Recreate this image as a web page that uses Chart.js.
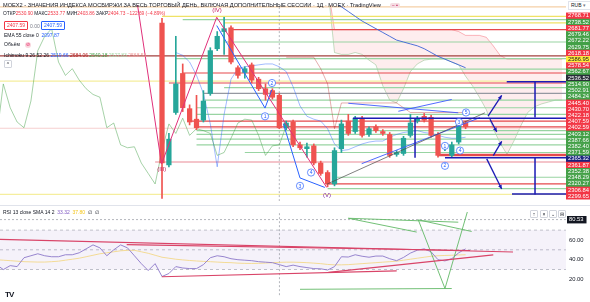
<!DOCTYPE html>
<html>
<head>
<meta charset="utf-8">
<title>MOEX2 1Д</title>
<script src="https://cdn.jsdelivr.net/npm/chart.js@4.4.1/dist/chart.umd.min.js"></script>
<style>
  body { margin: 0; width: 590px; height: 302px; overflow: hidden; background: #fff; position: relative;
         font-family: "Liberation Sans", Arial, sans-serif; color: #131722; }
  canvas { position: absolute; left: 0; }
  #main { top: 0; }
  #rsi { top: 206px; }
  .t { position: absolute; white-space: nowrap; line-height: 1; }
  .r { color: #f23645; }
  .sep { position: absolute; left: 0; top: 205px; width: 590px; height: 1px; background: #e0e3eb; }
  .box { position: absolute; height: 7px; font-size: 5px; line-height: 7px; padding: 0 2px; border: 1px solid; border-radius: 1px; background: #fff; }
  .btn { position: absolute; width: 6px; height: 6px; border: 1px solid #d1d4dc; border-radius: 1px; font-size: 5px; line-height: 6px; text-align: center; background: #fff; }
</style>
</head>
<body>
<canvas id="main" width="590" height="206"></canvas>
<canvas id="rsi" width="590" height="96"></canvas>
<div class="sep"></div>

<div class="t" style="left:3px;top:3px;font-size:5.65px">MOEX2 - ЗНАЧЕНИЯ ИНДЕКСА МОСБИРЖИ ЗА ВЕСЬ ТОРГОВЫЙ ДЕНЬ, ВКЛЮЧАЯ ДОПОЛНИТЕЛЬНЫЕ СЕССИИ · 1Д · MOEX · TradingView</div>
<div class="t" style="left:390px;top:3px;font-size:5px;background:#f5dde3;color:#c2185b;padding:0 2px;border-radius:2px">− ▪</div>
<div class="t" style="left:3px;top:12px;font-size:4.8px">ОТКР<span class="r">2530.90</span> МАКС<span class="r">2533.77</span> МИН<span class="r">2403.86</span> ЗАКР<span class="r">2404.73</span> <span class="r">−122.69 (−4.89%)</span></div>
<div class="box" style="left:4px;top:21px;border-color:#f23645;color:#f23645">2407.59</div>
<div class="t" style="left:30px;top:24px;font-size:5px;color:#787b86">0.00</div>
<div class="box" style="left:41px;top:21px;border-color:#2962ff;color:#2962ff">2407.59</div>
<div class="t" style="left:4px;top:33px;font-size:5px">EMA 55 close 0 &nbsp;<span style="color:#2962ff">2097.87</span></div>
<div class="t" style="left:4px;top:42px;font-size:5px">Объём <span style="display:inline-block;margin-left:4px;width:6px;height:6px;border-radius:3px;background:#f8d7de;color:#e91e63;text-align:center;line-height:6px;font-size:4.5px">⊘</span></div>
<div class="t" style="left:4px;top:53px;font-size:5px">Ichimoku 9 26 52 26 <span style="color:#2962ff">2519.66</span> <span style="color:#b71c1c">2684.06</span> <span style="color:#43a047">2540.18</span> <span style="color:#a5d6a7">2527.83</span> <span style="color:#ef9a9a">2568.53</span></div>
<div class="btn" style="left:4px;top:60px">^</div>

<div class="t" style="left:568px;top:1px;width:20px;height:7px;font-size:5px;line-height:7px;background:#fff;border:1px solid #e0e3eb;padding-left:2px">RUB <span style="color:#787b86">▾</span></div>

<div class="t" style="left:3px;top:210px;font-size:5px">RSI 13 close SMA 14 2 &nbsp;<span style="color:#7e57c2">33.32</span> &nbsp;<span style="color:#f5c518">37.80</span> &nbsp;∅ &nbsp;∅</div>
<div class="btn" style="left:530px;top:210px">↑</div>
<div class="btn" style="left:540px;top:210px">×</div>
<div class="btn" style="left:549px;top:210px">⌄</div>
<div class="btn" style="left:558px;top:210px">⊟</div>
<div class="t" style="left:5px;top:291px;font-size:8px;font-weight:bold;letter-spacing:-1px">TV</div>

<script>
// ---- candles (index 0 = the big red day) ----
var opens  = [2531.3,2345,2413.8,2465,2418.8,2405,2403.8,2438.8,2497.5,2520,2525,2472.5,2466.3,2476.3,2457.5,2445,2442.5,2436.3,2393.8,2401.3,2371.3,2366.3,2370,2347.5,2335,2320,2366.3,2402.5,2388.8,2406.3,2385,2395,2388.8,2385,2358.8,2360,2383.8,2402.5,2408.8,2407.5,2385,2367.5,2357.5,2375,2400];
var highs  = [2537.5,2386.3,2513.8,2477.5,2423.8,2436.3,2442.5,2498.8,2520,2538.8,2527.5,2475,2473.8,2478.8,2460,2451.3,2445,2438.8,2402.5,2403.8,2375,2373.8,2372.5,2350,2337.5,2367.5,2403.8,2411.3,2408.8,2408.8,2395,2397.5,2391.3,2387.5,2363.8,2382.5,2411.3,2408.8,2412.5,2410,2387.5,2373.8,2375,2400,2402.5];
var lows   = [2301,2342.5,2411.3,2415,2397.5,2391.3,2401.3,2436.3,2495,2490,2477.5,2458.8,2458.8,2452.5,2442.5,2430,2431.3,2392.5,2391.3,2368.8,2365,2355,2345,2331.3,2316.3,2317.5,2361.3,2383.8,2386.3,2381.3,2382.5,2387.5,2383.8,2355,2356.3,2357.5,2381.3,2400,2401.3,2381.3,2355,2363.8,2355,2372.5,2392.5];
var closes = [2347.5,2378.8,2451.3,2420,2401.3,2393.8,2428.8,2495,2513.8,2523.8,2480,2462.5,2471.3,2456.3,2445,2437.5,2433.8,2393.8,2400,2371.3,2367.5,2368.8,2347.5,2333.8,2320,2363.8,2398.8,2386.3,2406.3,2383.8,2392.5,2390,2386.3,2357.5,2361.3,2380,2400,2405,2403.8,2383.8,2357.5,2370,2371.3,2396.3,2395];

// ---- ichimoku / ema ----
var tenkanStart = 2;
var tenkan = [2492.5,2488.8,2480,2462.5,2438.8,2398.8,2342.5,2411.3,2457.5,2471.3,2473.8,2475,2476.3,2477.5,2477.5,2473.8,2467.5,2447.5,2422.5,2408.8,2405,2402.5,2392.5,2372.5,2363.8,2365,2368.8,2372.5,2375,2376.3,2376.3,2381.3,2385,2387.5,2388.8,2390,2387.5,2386.3,2383.8,2381.3,2380,2380,2381.3];
var kijunStart = 18;
var kijun = [2486.3,2486.3,2486.3,2486.3,2486.3,2471.3,2451.3,2392.5,2426.3,2426.3,2426.3,2426.3,2426.3,2426.3,2426.3,2426.3,2426.3,2420,2413.8,2413.8,2413.8,2413.8,2413.8,2413.8,2413.8,2413.8,2413.8];
var chikouShift = 25;
var emaStart = 25;
var ema55 = [2558.8,2552.5,2546.3,2540,2533.8,2528.8,2523.8,2518.8,2513.8,2508.8,2506.3,2503.8,2501.3,2497.5,2492.5,2487.5,2483.8,2480,2476.3,2472.5];
var cloudStart = 24;
var spanB = [2580,2522.5,2522.5,2522.5,2522.5,2522.5,2522.5,2522.5,2522.5,2522.5,2522.5,2522.5,2522.5,2522.5,2522.5,2522.5,2522.5,2522.5,2522.5,2520,2515,2515,2515,2512.5,2501.3,2488.8,2483.8,2483.8,2483.8,2483.8,2483.8,2483.8,2483.8,2483.8,2483.8];
var spanA = [2580,2492.5,2490,2490,2492.5,2490,2482.5,2476.3,2448.8,2430,2426.3,2445,2467.5,2477.5,2482.5,2483.8,2483.8,2483.8,2480,2476.3,2461.3,2448.8,2433.8,2417.5,2392.5,2373.8,2358.8,2376.3,2396.3,2413.8,2421.3,2425,2427.5,2430,2430];

// ---- horizontal levels ----
var levelPrices = [2552.5,2540,2535.6,2531.3,2522.5,2506.3,2488.1,2484.4,2470.6,2465.6,2455,2452.5,2446.3,2438.8,2430,2420,2411.3,2402.5,2395,2393.1,2390,2385,2378.8,2371.3,2361.3,2358.1,2348.8,2328.8,2320,2313.8,2306.3];
var levelFrom   = [-24,0,3,9,10,9,-24,2,13,3,-24,1,9,6,6,5,5,4,5,-24,5,5,5,5,12,40,-1,25,24,24,-24];

// ---- drawn trend lines [bar, price] ----
var waveMagenta = [[-3.8,2570],[-0.07,2346.3],[7.93,2538.8],[16.62,2417.5],[23.87,2315.4]];
var waveBlue1 = [[7.93,2527.9],[14.93,2419.6],[15.9,2443.4]];
var waveBlue2 = [[17.6,2398.8],[20,2327.9],[23.6,2315.4]];
var trendGray = [[23.87,2319.6],[46.8,2413.4]];
var trendBlue = [[[27,2425.9],[42.94,2413.4]], [[34.25,2415.4],[41.99,2430.9]], [[28.94,2346.6],[46.09,2407.1]]];
var boxLines = [[[49.96,2454.1],[59,2454.1]], [[54.06,2454.1],[54.06,2407.1]], [[27.68,2406.3],[59,2406.3]], [[36.67,2406.3],[36.67,2354.4]],
                [[41.01,2354.4],[59,2354.4]], [[54.06,2354.4],[54.06,2306.3]], [[50.72,2306.9],[59,2306.9]]];
var arrowLines = [[[47.25,2409.1],[49.23,2436.3]], [[47.54,2405],[48.51,2388.4]], [[48.01,2357.1],[49.23,2375.9]], [[47.06,2352.9],[49.23,2313.4]]];

// wave labels
var waveText  = ['(III)','(IV)','(V)','1','2','3','4','5','1','2','3','4'];
var waveBar   = [-0.04,7.97,23.9,14.93,15.94,20,21.6,44.06,41.01,41.01,43.04,43.19];
var wavePrice = [2340,2548.8,2305,2408.8,2452.5,2317.5,2335,2413.8,2370,2343.8,2401.3,2363.8];

// price-scale tags
var tagLabels = ['2768.71','2738.52','2681.77','2679.46','2672.22','2629.75','2618.18','2586.95','2578.54','2562.67','2536.52','2514.90','2502.91','2484.24','2445.40','2430.70','2422.18','2407.59','2402.59','2403.12','2387.66','2382.40','2371.59','2365.32','2361.87','2352.38','2348.29','2320.27','2306.84','2299.65'];

// ---- RSI ----
var rsiStart = -24;
var rsi = [35,30,34,33,42,44,46,44,43,43,45,45,47,51,55,52,44,50,55,52,44,36,29,36,
           23,26,33,31.6,31,31,35,42,44,43,41,40,39.5,39,38,37.5,37,35,33,34.5,33,32,31,30.8,29.5,33,43,42.7,45,43.5,42.5,43.7,43.7,41,39,42.3,46.7,49.6,51,48,40,38.8,41,47,51];
var rsiSma = [40,39.5,39,38.5,38,37.8,37.6,37.6,38,38.5,39.5,40.5,41.5,43,44.5,46,47,48,49,49.5,49.5,48,46.5,44.5,
              42.5,41.5,40.5,39.8,39.2,38.7,38.3,38,37.6,37.2,37,36.5,36.3,36.2,36.3,36.6,37,37.3,37.5,37.5,37.3,37,36.5,36,35.2,34.8,34.8,35,35.5,36,36.5,37,37.5,38,38.5,39.5,40.5,41.5,42.5,43.5,44,44.3,44.5,44.8,45];
var rsiBands = [70, 50, 30];
var rsiTicks = [20, 40, 60];
var crossBar = 17, crossRsi = 80.53;
var rsiRed = [[[-23.48,60.6],[50.87,47.8]], [[-5.12,55.3],[44.64,49.3]], [[-0.04,22.7],[34.01,28.6]], [[24.1,27.1],[48.01,44.9]]];
var rsiGreen = [[[27,82],[42.94,78]], [[27,82],[36.91,68]], [[37.14,80.4],[41.01,10.8]], [[41.01,10.8],[44.25,88.4]], [[37.14,80.4],[44.88,68.6]], [[20,10],[41.99,10.8]]];

// ---- styles ----
var UP = '#26a69a', DOWN = '#ef5350';
var cP = '#f5cfa6', cY = '#f0e266', cYl = '#f5ee9e', cG = '#98d4a2', cR = '#e5484d', cM = '#a3403f', cGr = '#9598a1', cPk = '#f6cfcf', cPr = '#ea8a96';
var levelColors = [cP,cY,cG,cY,cR,cG,cM,cG,cG,cR,cYl,cR,cG,cGr,cG,cG,cG,cR,cR,cPk,cG,cG,cG,cG,cG,cR,cPr,cG,cR,cG,cYl];
var tG = '#43a047', tR = '#f23645';
var tagBg = [tR,tG,tR,tG,tG,tG,tR,'#ffeb3b',tR,tG,'#2a2e39',tG,tG,tG,tR,tR,tR,tR,tR,tG,tG,tG,tG,'#1a237e',tR,tG,tG,tG,tR,tR];
var waveColor = ['#c2185b','#c2185b','#7b1fa2','#2962ff','#2962ff','#2962ff','#2962ff','#2962ff','#2962ff','#2962ff','#2962ff','#2962ff'];

var X_MIN = -23.48, X_MAX = 58.55;

Chart.defaults.font.family = '"Liberation Sans", Arial, sans-serif';
Chart.defaults.animation = false;

function pts(list) { return list.map(function(p) { return {x: p[0], y: p[1]}; }); }
function series(start, values) { return values.map(function(v, k) { return {x: start + k, y: v}; }); }
function line(data, color, width, order, extra) {
	var ds = {type: 'line', data: data, borderColor: color, borderWidth: width, pointRadius: 0, tension: 0, fill: false, order: order};
	for (var k in (extra || {})) ds[k] = extra[k];
	return ds;
}

// arrow heads at the end of datasets flagged with arrow:true
var arrowPlugin = {
	id: 'arrowHeads',
	afterDatasetsDraw: function(chart) {
		var ctx = chart.ctx;
		chart.data.datasets.forEach(function(ds, i) {
			if (!ds.arrow) return;
			var el = chart.getDatasetMeta(i).data;
			var a = el[el.length - 2], b = el[el.length - 1];
			var ang = Math.atan2(b.y - a.y, b.x - a.x), s = 4.5;
			ctx.save();
			ctx.fillStyle = ds.borderColor;
			ctx.beginPath();
			ctx.moveTo(b.x, b.y);
			ctx.lineTo(b.x - s * Math.cos(ang - 0.45), b.y - s * Math.sin(ang - 0.45));
			ctx.lineTo(b.x - s * Math.cos(ang + 0.45), b.y - s * Math.sin(ang + 0.45));
			ctx.closePath();
			ctx.fill();
			ctx.restore();
		});
	}
};

// elliott wave labels
var wavePlugin = {
	id: 'waveLabels',
	afterDatasetsDraw: function(chart) {
		var ctx = chart.ctx, xs = chart.scales.x, ys = chart.scales.y;
		ctx.save();
		ctx.textAlign = 'center';
		ctx.textBaseline = 'middle';
		waveText.forEach(function(t, k) {
			var px = xs.getPixelForValue(waveBar[k]), py = ys.getPixelForValue(wavePrice[k]);
			ctx.fillStyle = waveColor[k];
			if (t.charAt(0) !== '(') {
				ctx.beginPath();
				ctx.arc(px, py, 3.6, 0, Math.PI * 2);
				ctx.fillStyle = '#fff';
				ctx.fill();
				ctx.strokeStyle = waveColor[k];
				ctx.lineWidth = 0.7;
				ctx.stroke();
				ctx.fillStyle = waveColor[k];
				ctx.font = '5px "Liberation Sans", Arial';
			} else {
				ctx.font = '6px "Liberation Sans", Arial';
			}
			ctx.fillText(t, px, py + 0.3);
		});
		ctx.restore();
	}
};

// ---------- main pane ----------
var mainSets = [];
mainSets.push(line(series(cloudStart, spanB), 'rgba(242,54,69,0.45)', 0.8, 20, {fill: '+1', backgroundColor: 'rgba(242,54,69,0.09)'}));
mainSets.push(line(series(cloudStart, spanA), 'rgba(67,160,71,0.4)', 0.8, 20));
levelPrices.forEach(function(p, k) {
	mainSets.push(line([{x: levelFrom[k], y: p}, {x: X_MAX + 1, y: p}], levelColors[k], k === 25 ? 2.6 : 1.2, 15));
});
mainSets.push(line([{x: crossBar, y: 2297.5}, {x: crossBar, y: 2555}], '#9598a1', 0.7, 14, {borderDash: [2, 2]}));
mainSets.push(line(closes.map(function(c, i) { return {x: i - chikouShift, y: c}; }), 'rgba(67,160,71,0.6)', 0.8, 12));
mainSets.push(line(series(tenkanStart, tenkan), 'rgba(41,98,255,0.55)', 0.8, 12));
mainSets.push(line(series(kijunStart, kijun), 'rgba(183,28,28,0.45)', 0.8, 12));
mainSets.push(line(series(emaStart, ema55), '#3b63d6', 0.9, 12));

mainSets.push({type: 'bar', order: 5, grouped: false, barThickness: 1, borderWidth: 0,
	data: opens.map(function(o, i) { return {x: i, y: [lows[i], highs[i]]}; }),
	backgroundColor: function(c) { return closes[c.dataIndex] >= opens[c.dataIndex] ? UP : DOWN; }});
mainSets.push({type: 'bar', order: 4, grouped: false, barThickness: 4.6, borderWidth: 0, minBarLength: 1.2,
	data: opens.map(function(o, i) { return {x: i, y: [o, closes[i]]}; }),
	backgroundColor: function(c) { return closes[c.dataIndex] >= opens[c.dataIndex] ? UP : DOWN; }});

mainSets.push(line(pts(waveMagenta), '#e0307a', 1, 3));
mainSets.push(line(pts(waveBlue1), '#2962ff', 1, 3));
mainSets.push(line(pts(waveBlue2), '#2962ff', 1, 3));
mainSets.push(line(pts(trendGray), '#4a4a4a', 0.7, 3));
trendBlue.forEach(function(s) { mainSets.push(line(pts(s), '#3d5afe', 0.9, 3)); });
boxLines.forEach(function(s) { mainSets.push(line(pts(s), '#1b1bb5', 1.5, 2)); });
arrowLines.forEach(function(s) { mainSets.push(line(pts(s), '#1b1bb5', 1.3, 2, {arrow: true})); });

new Chart(document.getElementById('main'), {
	type: 'line',
	data: {datasets: mainSets},
	options: {
		responsive: false,
		events: [],
		layout: {padding: 0, autoPadding: false},
		plugins: {legend: {display: false}, tooltip: {enabled: false}},
		scales: {
			x: {type: 'linear', min: X_MIN, max: X_MAX, offset: false, display: false},
			y: {type: 'linear', min: 2297.5, max: 2555, display: false},
			tags: {
				type: 'linear', position: 'right', reverse: true, min: -1.76, max: 29.79,
				grid: {display: false, drawTicks: false}, border: {display: false},
				afterBuildTicks: function(axis) { axis.ticks = tagLabels.map(function(t, k) { return {value: k}; }); },
				afterFit: function(axis) { axis.width = 24; },
				ticks: {
					autoSkip: false, padding: 2, font: {size: 5.8, lineHeight: 1},
					showLabelBackdrop: true,
					backdropPadding: {top: 0.4, bottom: 0.4, left: 2, right: 4},
					backdropColor: function(c) { return tagBg[c.index]; },
					color: function(c) { return tagBg[c.index] === '#ffeb3b' ? '#131722' : '#ffffff'; },
					callback: function(v, i) { return tagLabels[i]; }
				}
			}
		}
	},
	plugins: [arrowPlugin, wavePlugin]
});

// ---------- RSI pane ----------
var rsiSets = [];
rsiSets.push(line([{x: X_MIN, y: rsiBands[0]}, {x: X_MAX, y: rsiBands[0]}], '#b2b5be', 0.8, 20, {borderDash: [3, 3], fill: '+1', backgroundColor: 'rgba(126,87,194,0.08)'}));
rsiSets.push(line([{x: X_MIN, y: rsiBands[2]}, {x: X_MAX, y: rsiBands[2]}], '#b2b5be', 0.8, 20, {borderDash: [3, 3]}));
rsiSets.push(line([{x: X_MIN, y: rsiBands[1]}, {x: X_MAX, y: rsiBands[1]}], '#b2b5be', 0.8, 20, {borderDash: [3, 3]}));
rsiSets.push(line([{x: X_MIN, y: crossRsi}, {x: X_MAX, y: crossRsi}], '#9598a1', 0.7, 19, {borderDash: [2, 2]}));
rsiSets.push(line([{x: crossBar, y: 0}, {x: crossBar, y: 100}], '#9598a1', 0.7, 19, {borderDash: [2, 2]}));
rsiSets.push(line(series(rsiStart, rsiSma), '#f3d88a', 0.9, 10));
rsiSets.push(line(series(rsiStart, rsi), '#8c78c9', 0.9, 9));
rsiRed.forEach(function(s) { rsiSets.push(line(pts(s), '#d94468', 1.2, 5)); });
rsiGreen.forEach(function(s) { rsiSets.push(line(pts(s), '#62b966', 0.9, 5)); });

new Chart(document.getElementById('rsi'), {
	type: 'line',
	data: {datasets: rsiSets},
	options: {
		responsive: false,
		events: [],
		layout: {padding: 0, autoPadding: false},
		plugins: {legend: {display: false}, tooltip: {enabled: false}},
		scales: {
			x: {type: 'linear', min: X_MIN, max: X_MAX, offset: false, display: false},
			y: {
				type: 'linear', position: 'right', min: 3.11, max: 88.44,
				grid: {display: false, drawTicks: false}, border: {display: false},
				afterBuildTicks: function(axis) { axis.ticks = rsiTicks.concat([crossRsi]).map(function(v) { return {value: v}; }); },
				afterFit: function(axis) { axis.width = 24; },
				ticks: {
					autoSkip: false, padding: 3, font: {size: 5.8, lineHeight: 1},
					showLabelBackdrop: true,
					backdropPadding: {top: 0.8, bottom: 0.8, left: 2, right: 3},
					backdropColor: function(c) { return c.index === rsiTicks.length ? '#131722' : 'rgba(0,0,0,0)'; },
					color: function(c) { return c.index === rsiTicks.length ? '#ffffff' : '#131722'; },
					callback: function(v) { return v.toFixed(2); }
				}
			}
		}
	}
});
</script>
</body>
</html>
